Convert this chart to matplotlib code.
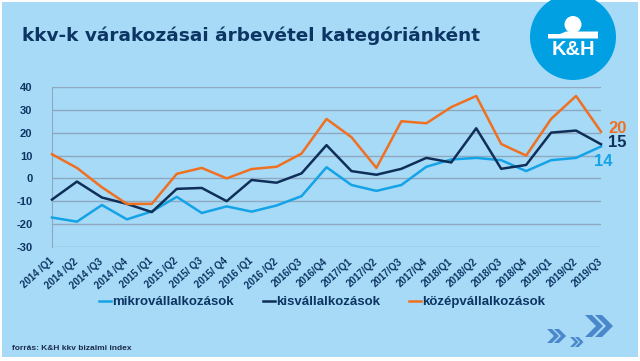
import matplotlib
matplotlib.use("Agg")
import matplotlib.pyplot as plt
from matplotlib.patches import Rectangle, Circle, Polygon

plt.rcParams["axes.unicode_minus"] = False

# quarters on the x axis
quarters = ["2014 /Q1", "2014 /Q2", "2014 /Q3", "2014 /Q4",
            "2015 /Q1", "2015 /Q2", "2015/ Q3", "2015/ Q4",
            "2016 /Q1", "2016 /Q2", "2016/Q3", "2016/Q4",
            "2017/Q1", "2017/Q2", "2017/Q3", "2017/Q4",
            "2018/Q1", "2018/Q2", "2018/Q3", "2018/Q4",
            "2019/Q1", "2019/Q2", "2019/Q3"]

# values
mikro = [-17.2, -19, -11.7, -18, -14.5, -8.1, -15.2, -12.3, -14.6, -11.9, -7.8, 4.9,
         -2.9, -5.5, -2.9, 5.1, 8.3, 9, 8, 3.2, 8, 9, 14]
kis = [-9.3, -1.4, -8.4, -11.2, -14.8, -4.6, -4.2, -10, -0.7, -1.9, 2.2, 14.6,
       3.2, 1.6, 4.2, 9, 7, 22, 4.2, 5.9, 20.1, 21, 15]
kozep = [10.6, 4.6, -3.9, -11.2, -11.2, 2, 4.6, 0, 4.1, 5.1, 10.9, 26.1,
         18.1, 4.6, 25.1, 24.2, 31.3, 36.2, 15.1, 10, 26.1, 36.2, 20.5]

series_names = ["mikrovállalkozások", "kisvállalkozások", "középvállalkozások"]
end_labels = ["14", "15", "20"]
yticks = [40, 30, 20, 10, 0, -10, -20, -30]

bg = "#a6daf7"
navy = "#0d3563"
colors = ["#14a3e6", "#0f2f58", "#f07022"]

W, H = 640, 361
fig = plt.figure(figsize=(W / 100, H / 100), dpi=100, facecolor="white")

# overlay in pixel coords for the background, logo and arrows
deco = fig.add_axes([0, 0, 1, 1], zorder=0)
deco.set_xlim(0, W)
deco.set_ylim(H, 0)
deco.axis("off")
deco.add_patch(Rectangle((2, 2), W - 4, H - 6, color=bg, lw=0))

# K&H logo
deco.add_patch(Circle((573, 37), 43, color="#00a0e2", lw=0))
deco.add_patch(Circle((573, 24.5), 8.5, color="white", lw=0))
deco.add_patch(Polygon([(548, 38.5), (548, 34), (560, 34), (566, 31.5),
                        (598, 31.5), (598, 38.5)], color="white", lw=0))
deco.text(573, 55, "K&H", color="white", fontsize=14.5, fontweight="bold",
          family="Liberation Sans", ha="center", va="baseline")


def chevrons(x, y, h, t, d):
    # two right pointing chevrons, x/y = top-left corner
    for k in range(2):
        x0 = x + k * d
        pts = [(x0, y), (x0 + t, y), (x0 + t + h / 2, y + h / 2),
               (x0 + t, y + h), (x0, y + h), (x0 + h / 2, y + h / 2)]
        deco.add_patch(Polygon(pts, color="#4a88cb", lw=0))


chevrons(585, 315, 22, 7, 10)
chevrons(547, 329, 14, 5, 7)
chevrons(570, 337, 10, 3.5, 5)

fig.text(22 / W, 1 - 36 / H, "kkv-k várakozásai árbevétel kategóriánként",
         color=navy, fontsize=13.3, fontweight="bold", family="DejaVu Sans",
         va="center", ha="left")
fig.text(12 / W, 1 - 349 / H, "forrás: K&H kkv bizalmi index", color="#1c2b4d",
         fontsize=6, fontweight="bold", family="Liberation Sans", va="center")

ax = fig.add_axes([52 / W, 1 - 246.7 / H, 549 / W, 159.4 / H], zorder=1)
ax.set_facecolor("none")
x = list(range(len(quarters)))
for vals, c, name in zip([mikro, kis, kozep], colors, series_names):
    ax.plot(x, vals, color=c, lw=1.8, label=name, clip_on=False, zorder=3)

ax.set_xlim(0, len(quarters) - 1)
ax.set_ylim(-30, 40)
ax.set_yticks(yticks)
ax.grid(axis="y", color="#8ea9bf", lw=1)
ax.set_axisbelow(True)
for s in ["top", "right", "bottom"]:
    ax.spines[s].set_visible(False)
ax.spines["left"].set_color("#8ea9bf")
ax.tick_params(axis="y", length=0, pad=14, labelsize=8, labelcolor=navy)
ax.tick_params(axis="x", length=0, pad=9.5, labelsize=7, labelcolor=navy)
ax.set_xticks(x)
ax.set_xticklabels(quarters, rotation=42, ha="right", rotation_mode="anchor",
                   va="center")
for lab in ax.get_xticklabels() + ax.get_yticklabels():
    lab.set_fontweight("bold")
    lab.set_family("Liberation Sans")

# end-of-line value labels
offsets = [(-5, -11), (5, 1), (5, 2)]
for vals, c, lab, off in zip([mikro, kis, kozep], colors, end_labels, offsets):
    ax.annotate(lab, (x[-1], vals[-1]), xytext=off, textcoords="offset points",
                color=c, fontsize=12, fontweight="bold", family="Liberation Sans",
                va="center", ha="left", annotation_clip=False)

fig.legend(loc="center", bbox_to_anchor=(0.503, 1 - 302 / H), ncol=3,
           frameon=False, handlelength=0.9, handletextpad=0.1, columnspacing=2.2,
           prop={"family": "Liberation Sans", "weight": "bold", "size": 9.5},
           labelcolor=navy)

fig.savefig("out.png", dpi=100, facecolor="white")
